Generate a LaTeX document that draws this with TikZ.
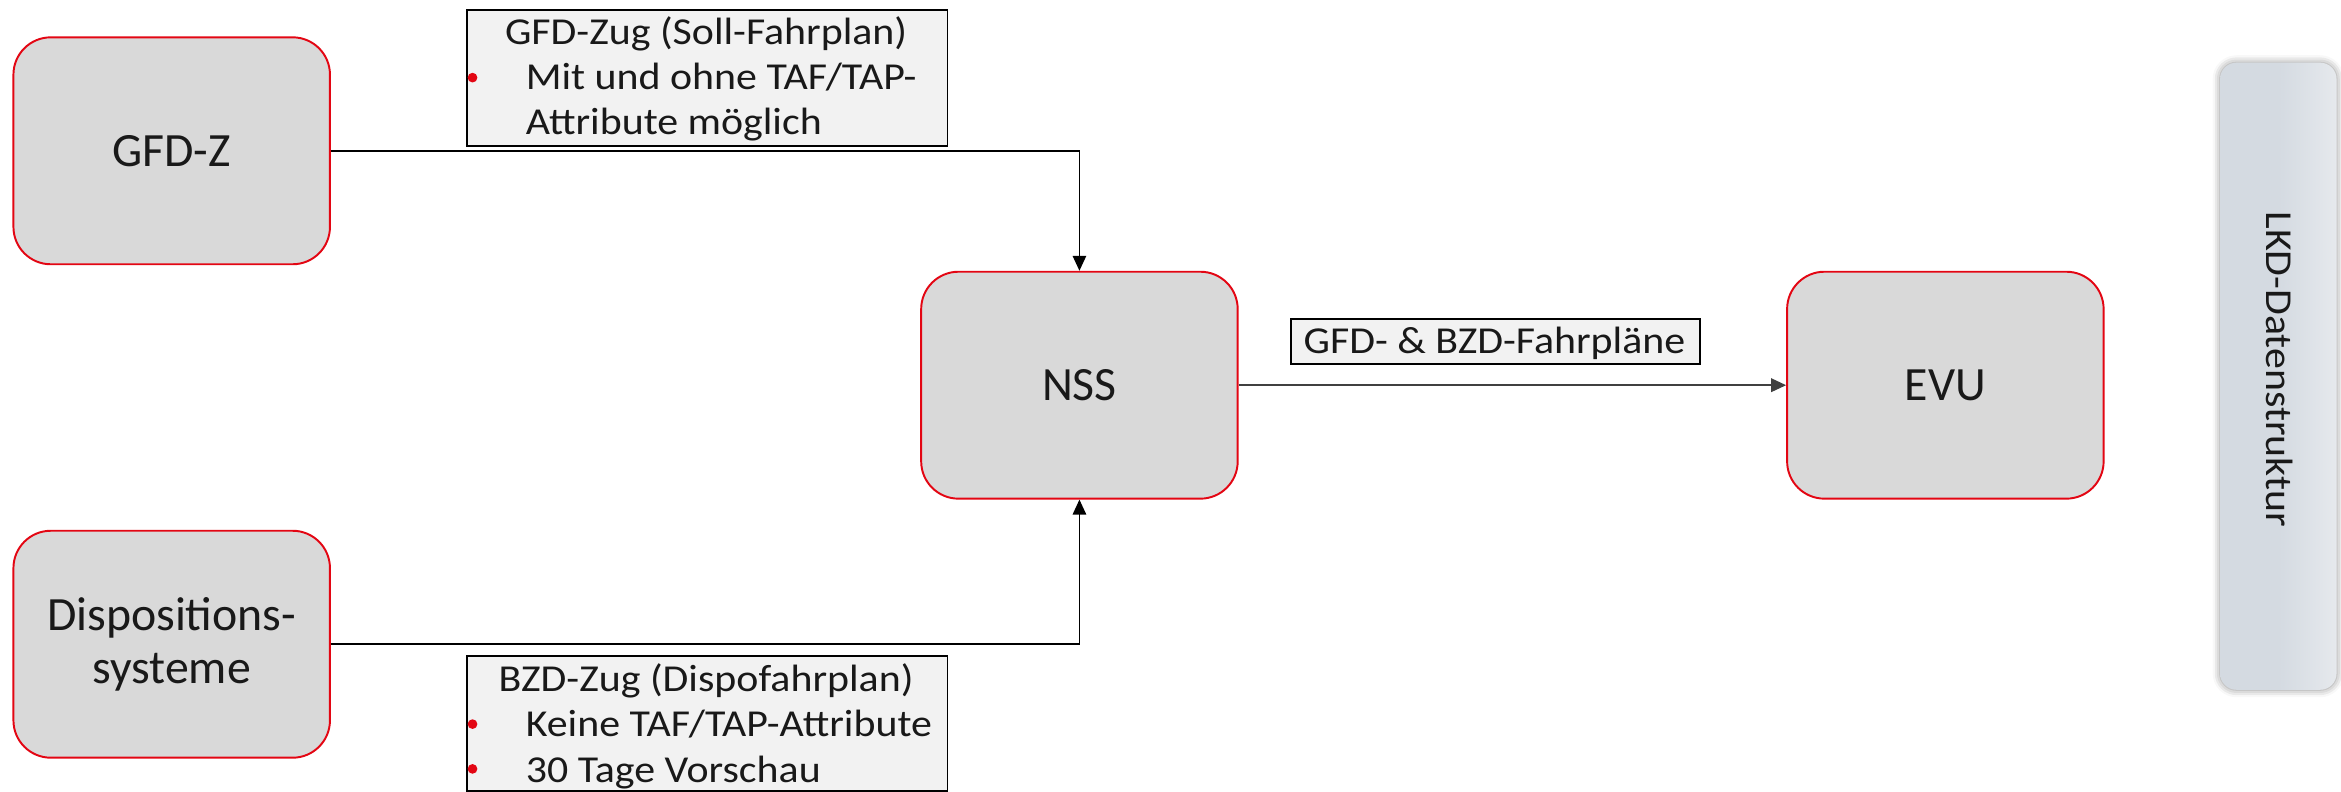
\documentclass[tikz,border=0pt]{standalone}
\usepackage{fontspec}
\setmainfont{Carlito}
\newfontfamily\lblfont[FakeStretch=1.1]{Carlito}
\usetikzlibrary{arrows.meta,shadows.blur}
\definecolor{dbred}{HTML}{E30613}
\definecolor{boxgray}{HTML}{D9D9D9}
\definecolor{lblgray}{HTML}{F2F2F2}
\definecolor{darkline}{HTML}{404040}
\definecolor{lkdA}{HTML}{D4DAE1}
\definecolor{lkdB}{HTML}{E6E9ED}
\begin{document}
\begin{tikzpicture}[x=1pt,y=-1pt,
  sys/.style={draw=dbred, line width=1.3pt, fill=boxgray, rounded corners=25pt,
    minimum width=212pt, minimum height=152pt, inner sep=0pt, align=center,
    font=\fontsize{32}{35}\selectfont, text=black!90},
  lblbox/.style={draw=black, line width=1.2pt, fill=lblgray, inner sep=0pt},
  lbltxt/.style={inner sep=0pt, font=\lblfont\fontsize{25.5}{30}\selectfont, text=black!90},
  bul/.style={circle, fill=dbred, minimum size=6.5pt, inner sep=0pt},
  conn/.style={line width=1pt, -{Triangle[length=10pt,width=9pt]}},
  lkdbox/.style={rounded corners=11pt, minimum width=78pt, minimum height=420pt,
    inner sep=0pt, left color=lkdA, right color=lkdB, middle color=lkdA,
    blur shadow={shadow xshift=0pt, shadow yshift=0pt, shadow blur radius=5pt, shadow opacity=45}}
]
\useasboundingbox (0,0) rectangle (1568,530);

% main boxes
\node[sys] (gfdz) at (115,101) {GFD-Z};
\node[sys] (disp) at (115,431.5) {Dispositions-\\systeme};
\node[sys] (nss) at (723,258) {NSS};
\node[sys] (evu) at (1303,258) {EVU};

% connectors
\draw[conn] (gfdz.east) -| (nss.north);
\draw[conn] (disp.east) -| (nss.south);
\draw[conn, draw=darkline, line width=1.3pt] (nss.east) -- (evu.west);

% label 1
\node[lblbox, minimum width=322pt, minimum height=91pt, anchor=north west] (l1) at (312,6) {};
\node[lbltxt, anchor=base] (l1t) at (473,30) {GFD-Zug (Soll-Fahrplan)};
\node[bul] (l1d) at (316.5,52) {};
\node[lbltxt, anchor=base west] (l1a) at (352,60) {Mit und ohne TAF/TAP-};
\node[lbltxt, anchor=base west] (l1b) at (352,90) {Attribute möglich};

% label 2
\node[lblbox, minimum width=322pt, minimum height=90pt, anchor=north west] (l2) at (312,439) {};
\node[lbltxt, anchor=base] (l2t) at (473,463) {BZD-Zug (Dispofahrplan)};
\node[bul] (l2d) at (316.5,485) {};
\node[lbltxt, anchor=base west] (l2a) at (352,493) {Keine TAF/TAP-Attribute};
\node[bul] (l2e) at (316.5,515) {};
\node[lbltxt, anchor=base west] (l2b) at (352,524) {30 Tage Vorschau};

% label 3
\node[lblbox, minimum width=274pt, minimum height=30pt, anchor=north west] (l3) at (864,213) {};
\node[lbltxt, anchor=base] (l3t) at (1001,236.5) {GFD- \& BZD-Fahrpläne};

% LKD
\node[lkdbox] (lkd) at (1526,252) {};
\node[lbltxt, rotate=-90] (lkdt) at (1527,247.5) {LKD-Datenstruktur};
\end{tikzpicture}
\end{document}
